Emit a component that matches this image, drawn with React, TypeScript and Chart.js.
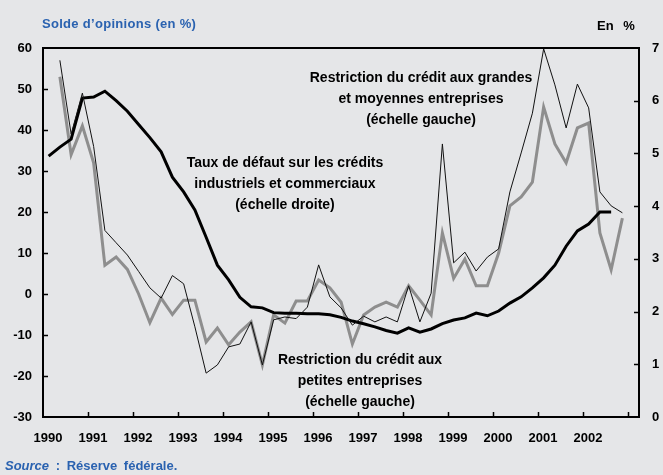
import React, { useEffect, useRef } from 'react';
import { Chart, registerables } from 'chart.js';

Chart.register(...registerables);

const years = ['1990', '1991', '1992', '1993', '1994', '1995', '1996', '1997', '1998', '1999', '2000', '2001', '2002'];
const quarterNames = ['T1', 'T2', 'T3', 'T4'];
const quarters = years.flatMap((y) => quarterNames.map((q) => y + q));

// Restriction du crédit aux grandes et moyennes entreprises (échelle gauche)
const largeFirms = [
  null, 57, 39, 49, 36, 15.5, 12.5, 9.5, 5.5, 1.5, -1, 4.5, 2.5,
  -8, -19.3, -17.3, -12.9, -12.2, -6.8, -17.3, -6.3, -5.6, -6, -3.2,
  7.1, -0.7, -3.4, -7.6, -5.4, -6.8, -5.6, -6.8, 2, -6.8, 0.2, 36.6,
  7.6, 10.2, 5.6, 9, 11, 24.9, 34.4, 44.1, 59.8, 51, 40.5, 51.2,
  45.4, 24.9, 21.5, 19.8,
];

// Restriction du crédit aux petites entreprises (échelle gauche)
const smallFirms = [
  null, 53, 34, 41, 32, 7, 9, 6, 0, -7, -1, -5, -1.5,
  -1.5, -11.7, -8.3, -12.4, -9.3, -6.8, -17.3, -5.1, -7.1, -1.7, -1.7,
  3.4, 1.5, -2, -12.2, -5.1, -3.2, -2, -3.2, 2, -1.5, -5.1, 14.9,
  3.8, 8.5, 2, 2, 10, 21.5, 23.7, 27.3, 45.6, 36.6, 32, 40.5,
  41.7, 14.9, 5.9, 18.5,
];

// Taux de défaut sur les crédits industriels et commerciaux (échelle droite)
const defaultRate = [
  4.95, 5.12, 5.27, 6.05, 6.07, 6.18, 6.0, 5.8, 5.55, 5.3, 5.03, 4.55, 4.27,
  3.93, 3.41, 2.88, 2.6, 2.27, 2.09, 2.07, 1.98, 1.97, 1.97, 1.96,
  1.96, 1.94, 1.89, 1.82, 1.77, 1.71, 1.64, 1.59, 1.69, 1.61, 1.67, 1.77,
  1.84, 1.88, 1.97, 1.92, 2.01, 2.16, 2.28, 2.45, 2.64, 2.88, 3.24, 3.53,
  3.66, 3.89, 3.89, null,
];

const leftMin = -30;
const leftMax = 60;
const rightMin = 0;
const rightMax = 7;
const xMin = 1990;
const xMax = 2003.244;

function quarterX(q: string): number {
  const y = parseInt(q.slice(0, 4), 10);
  const n = parseInt(q.slice(5), 10);
  return y + (n - 0.5) / 4;
}

function toPoints(values: (number | null)[]) {
  return quarters.map((q, i) => ({ x: quarterX(q), y: values[i] ?? null }));
}

const BG = '#e5e6e8';
const BLUE = '#2a62b0';
const FONT = '"Liberation Sans", Arial, sans-serif';

const framePlugin = {
  id: 'frameTicks',
  afterDraw(chart: any) {
    const { ctx, chartArea } = chart;
    const { left, right, top, bottom } = chartArea;
    ctx.save();
    ctx.strokeStyle = '#000';
    ctx.lineWidth = 1.5;
    const yl = chart.scales.y;
    yl.ticks.forEach((t: any) => {
      if (t.value <= leftMin || t.value >= leftMax) return;
      const p = Math.round(yl.getPixelForValue(t.value)) + 0.5;
      ctx.beginPath();
      ctx.moveTo(left, p);
      ctx.lineTo(left + 5, p);
      ctx.stroke();
    });
    const yr = chart.scales.y2;
    yr.ticks.forEach((t: any) => {
      if (t.value <= rightMin || t.value >= rightMax) return;
      const p = Math.round(yr.getPixelForValue(t.value)) + 0.5;
      ctx.beginPath();
      ctx.moveTo(right, p);
      ctx.lineTo(right - 5, p);
      ctx.stroke();
    });
    const xs = chart.scales.x;
    xs.ticks.forEach((t: any) => {
      if (t.value <= xMin || t.value >= xMax) return;
      const p = Math.round(xs.getPixelForValue(t.value)) + 0.5;
      ctx.beginPath();
      ctx.moveTo(p, bottom);
      ctx.lineTo(p, bottom - 5);
      ctx.stroke();
    });
    ctx.lineWidth = 2;
    ctx.strokeRect(left, top, right - left, bottom - top);
    ctx.restore();
  },
};

export default function App() {
  const canvasRef = useRef<HTMLCanvasElement | null>(null);

  useEffect(() => {
    document.body.style.margin = '0';
    document.body.style.background = BG;
    const canvas = canvasRef.current;
    if (!canvas) return;
    const tickFont = { family: FONT, size: 13, weight: 'bold' as const };
    const chart = new Chart(canvas, {
      type: 'line',
      data: {
        datasets: [
          {
            label: 'Restriction du crédit aux grandes et moyennes entreprises',
            data: toPoints(largeFirms),
            yAxisID: 'y',
            borderColor: '#111',
            borderWidth: 1,
            pointRadius: 0,
            tension: 0,
            order: 0,
          },
          {
            label: 'Taux de défaut sur les crédits industriels et commerciaux',
            data: toPoints(defaultRate),
            yAxisID: 'y2',
            borderColor: '#000',
            borderWidth: 3,
            pointRadius: 0,
            tension: 0,
            order: 1,
          },
          {
            label: 'Restriction du crédit aux petites entreprises',
            data: toPoints(smallFirms),
            yAxisID: 'y',
            borderColor: '#8e8e8e',
            borderWidth: 3,
            pointRadius: 0,
            tension: 0,
            order: 2,
          },
        ] as any,
      },
      options: {
        animation: false,
        responsive: false,
        devicePixelRatio: 1,
        layout: { padding: { top: 48, left: 0, right: 0, bottom: 0 } },
        plugins: { legend: { display: false }, tooltip: { enabled: false } },
        scales: {
          x: {
            type: 'linear',
            min: xMin,
            max: xMax,
            grid: { display: false, drawTicks: false },
            border: { display: false },
            ticks: {
              stepSize: 1,
              includeBounds: false,
              autoSkip: false,
              maxRotation: 0,
              minRotation: 0,
              padding: 14,
              labelOffset: 5,
              color: '#000',
              font: tickFont,
              callback: (v: any) => (Number.isInteger(v) && v <= 2002 ? String(v) : ''),
            },
            afterFit: (s: any) => {
              s.height = 58;
            },
          },
          y: {
            type: 'linear',
            position: 'left',
            min: leftMin,
            max: leftMax,
            grid: { display: false, drawTicks: false },
            border: { display: false },
            ticks: { stepSize: 10, padding: 11, color: '#000', font: tickFont },
            afterFit: (s: any) => {
              s.width = 43;
            },
          },
          y2: {
            type: 'linear',
            position: 'right',
            min: rightMin,
            max: rightMax,
            grid: { display: false, drawTicks: false },
            border: { display: false },
            ticks: { stepSize: 1, padding: 13, color: '#000', font: tickFont },
            afterFit: (s: any) => {
              s.width = 24;
            },
          },
        },
      } as any,
      plugins: [framePlugin],
    });
    return () => chart.destroy();
  }, []);

  const note: React.CSSProperties = {
    position: 'absolute',
    transform: 'translateX(-50%)',
    textAlign: 'center',
    whiteSpace: 'nowrap',
    fontFamily: FONT,
    fontWeight: 'bold',
    fontSize: 14,
    lineHeight: '21px',
    color: '#000',
  };

  return (
    <div style={{ position: 'relative', width: 663, height: 475, background: BG, overflow: 'hidden' }}>
      <canvas ref={canvasRef} width={663} height={475} style={{ position: 'absolute', left: 0, top: 0, width: 663, height: 475 }} />
      <div style={{ position: 'absolute', left: 42, top: 15, fontFamily: FONT, fontWeight: 'bold', fontSize: 13, lineHeight: '17px', color: BLUE, whiteSpace: 'nowrap', letterSpacing: 0.3 }}>
        Solde d’opinions (en %)
      </div>
      <div style={{ position: 'absolute', left: 597, top: 17, fontFamily: FONT, fontWeight: 'bold', fontSize: 13, lineHeight: '17px', color: '#000', whiteSpace: 'nowrap', wordSpacing: 6 }}>
        En %
      </div>
      <div style={{ ...note, left: 421, top: 67 }}>
        Restriction du crédit aux grandes
        <br />
        et moyennes entreprises
        <br />
        (échelle gauche)
      </div>
      <div style={{ ...note, left: 285, top: 152 }}>
        Taux de défaut sur les crédits
        <br />
        industriels et commerciaux
        <br />
        (échelle droite)
      </div>
      <div style={{ ...note, left: 360, top: 349 }}>
        Restriction du crédit aux
        <br />
        petites entreprises
        <br />
        (échelle gauche)
      </div>
      <div style={{ position: 'absolute', left: 5, top: 457, fontFamily: FONT, fontWeight: 'bold', fontSize: 13, lineHeight: '17px', color: BLUE, whiteSpace: 'nowrap', wordSpacing: 3 }}>
        <span style={{ fontStyle: 'italic' }}>Source</span> : Réserve fédérale.
      </div>
    </div>
  );
}
